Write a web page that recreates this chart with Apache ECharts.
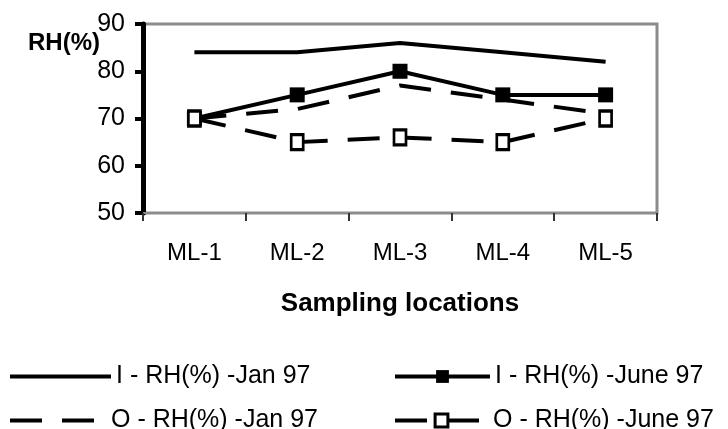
<!DOCTYPE html>
<html>
<head>
<meta charset="utf-8">
<script src="https://cdn.jsdelivr.net/npm/echarts@6/dist/echarts.min.js"></script>
<style>
html,body{margin:0;padding:0;background:#fff;}
#c{width:728px;height:429px;}
</style>
</head>
<body>
<div id="c"></div>
<script>
const categories = ['ML-1', 'ML-2', 'ML-3', 'ML-4', 'ML-5'];
const iJan = [84, 84, 86, 84, 82];
const iJune = [70, 75, 80, 75, 75];
const oJan = [70, 72, 77, 74, 71];
const oJune = [70, 65, 66, 65, 70];
const yTicks = { min: 50, max: 90, interval: 10 };
const names = ['I - RH(%) -Jan 97', 'I - RH(%) -June 97', 'O - RH(%) -Jan 97', 'O - RH(%) -June 97'];

const FONT = 'Liberation Sans, Arial, sans-serif';
const chart = echarts.init(document.getElementById('c'), null, { renderer: 'canvas' });
const dash = [32, 20];

function leg(item, left, top, w) {
  return {
    data: [item],
    orient: 'horizontal', left: left, top: top, padding: 0,
    itemWidth: w, itemHeight: 16,
    textStyle: { fontFamily: FONT, fontSize: 25, color: '#000' },
    lineStyle: { width: 4 },
    itemStyle: { borderWidth: 3 },
    selectedMode: false
  };
}
const hidden = { color: 'transparent', borderWidth: 0, opacity: 0 };

chart.setOption({
  animation: false,
  backgroundColor: '#fff',
  textStyle: { fontFamily: FONT, color: '#000' },
  title: {
    text: 'RH(%)', left: 28, top: 31, padding: 0,
    textStyle: { fontFamily: FONT, fontSize: 24, fontWeight: 'bold', color: '#000' }
  },
  grid: {
    left: 143, right: 71, top: 24, bottom: 216,
    show: true, borderColor: '#8c8c8c', borderWidth: 3, backgroundColor: 'transparent'
  },
  legend: [
    leg({ name: names[0], itemStyle: hidden }, 8, 364, 101),
    leg({ name: names[2], itemStyle: hidden }, 8, 408, 96),
    leg({ name: names[1] }, 393, 364, 95),
    leg({ name: names[3] }, 393, 408, 93)
  ],
  xAxis: {
    type: 'category',
    data: categories,
    boundaryGap: true,
    name: 'Sampling locations',
    nameLocation: 'middle',
    nameGap: 78,
    nameTextStyle: { fontFamily: FONT, fontSize: 26, fontWeight: 'bold', color: '#000' },
    axisLine: { lineStyle: { color: '#8c8c8c', width: 2 } },
    axisTick: { show: true, length: 8, lineStyle: { color: '#333', width: 2 } },
    axisLabel: { fontFamily: FONT, fontSize: 24, color: '#000', margin: 28 },
    splitLine: { show: false }
  },
  yAxis: {
    type: 'value',
    min: yTicks.min, max: yTicks.max, interval: yTicks.interval,
    axisLine: { show: true, lineStyle: { color: '#000', width: 5 } },
    axisTick: { show: true, length: 8, lineStyle: { color: '#000', width: 4 } },
    axisLabel: { fontFamily: FONT, fontSize: 25, color: '#000', margin: 18 },
    splitLine: { show: false }
  },
  series: [
    {
      name: names[0], type: 'line', data: iJan, symbol: 'none',
      lineStyle: { color: '#000', width: 4 }, itemStyle: { color: '#000' }
    },
    {
      name: names[1], type: 'line', data: iJune, symbol: 'rect', symbolSize: 15,
      lineStyle: { color: '#000', width: 4 }, itemStyle: { color: '#000' }
    },
    {
      name: names[2], type: 'line', data: oJan, symbol: 'none',
      lineStyle: { color: '#000', width: 4, type: dash }, itemStyle: { color: '#000' }
    },
    {
      name: names[3], type: 'line', data: oJune, symbol: 'rect', symbolSize: [12, 15],
      lineStyle: { color: '#000', width: 4, type: dash },
      itemStyle: { color: '#fff', borderColor: '#000', borderWidth: 3 }
    }
  ]
});
</script>
</body>
</html>
